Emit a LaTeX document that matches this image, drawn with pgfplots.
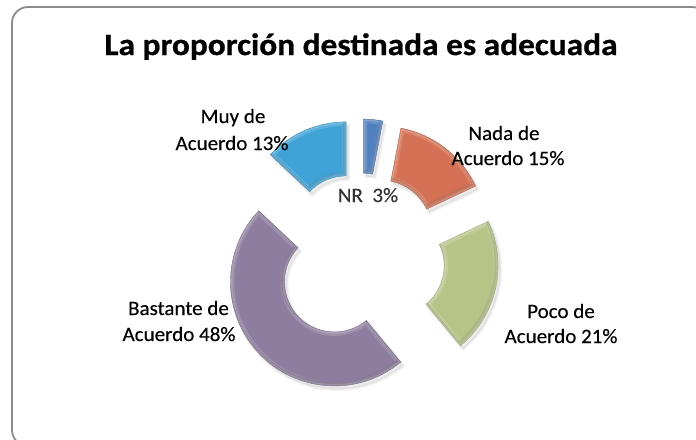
\documentclass[border=0pt]{standalone}
\usepackage{pgfplots}
\pgfplotsset{compat=1.18}
\usepackage{pgfplotstable}
\usepackage{fontspec}
\setmainfont{Carlito}
\newfontfamily\titlefont[FakeStretch=1.08,FakeBold=0.8]{Carlito Bold}
\newfontfamily\labelfont[FakeStretch=1.03,FakeBold=0.25]{Carlito}

\definecolor{cNR}{RGB}{80,128,192}
\definecolor{cNada}{RGB}{212,112,84}
\definecolor{cPoco}{RGB}{183,196,136}
\definecolor{cBastante}{RGB}{141,125,158}
\definecolor{cMuy}{RGB}{64,163,215}
\definecolor{framegray}{RGB}{140,140,140}

\pgfplotstableread{
label value
NR 3
Nada 15
Poco 21
Bastante 48
Muy 13
}\piedata

\def\cx{360}\def\cy{182}\def\Rout{104}\def\Rin{50}\def\expl{35}

\gdef\cum{0}
\pgfplotstablegetrowsof{\piedata}
\pgfmathtruncatemacro\lastrow{\pgfplotsretval-1}
\foreach \i in {0,...,\lastrow}{%
  \pgfplotstablegetelem{\i}{value}\of\piedata
  \pgfmathsetmacro\va{\pgfplotsretval}%
  \pgfmathsetmacro\tone{90-3.6*\cum}%
  \pgfmathsetmacro\ttwo{90-3.6*(\cum+\va)}%
  \pgfmathsetmacro\tmid{(\tone+\ttwo)/2}%
  \pgfmathsetmacro\px{\cx+\expl*cos(\tmid)}%
  \pgfmathsetmacro\py{\cy+\expl*sin(\tmid)}%
  \expandafter\xdef\csname tone\i\endcsname{\tone}%
  \expandafter\xdef\csname ttwo\i\endcsname{\ttwo}%
  \expandafter\xdef\csname px\i\endcsname{\px}%
  \expandafter\xdef\csname py\i\endcsname{\py}%
  \pgfmathsetmacro\newcum{\cum+\va}%
  \xdef\cum{\newcum}%
}

\newcommand\slicepath[1]{%
  ([shift={(\csname tone#1\endcsname:\Rout bp)}]axis cs:\csname px#1\endcsname,\csname py#1\endcsname)
  arc[start angle=\csname tone#1\endcsname, end angle=\csname ttwo#1\endcsname, radius=\Rout bp]
  -- ([shift={(\csname ttwo#1\endcsname:\Rin bp)}]axis cs:\csname px#1\endcsname,\csname py#1\endcsname)
  arc[start angle=\csname ttwo#1\endcsname, end angle=\csname tone#1\endcsname, radius=\Rin bp]
  -- cycle}

\newcommand\drawslice[2]{%
  \begin{scope}[shift={(2.5bp,-3.5bp)}]
    \fill[black, opacity=0.07, draw=black, draw opacity=0.05, line width=3bp] \slicepath{#1};
  \end{scope}
  \fill[#2] \slicepath{#1};
  \begin{scope}
    \clip \slicepath{#1};
    \draw[white, opacity=0.14, line width=8bp] \slicepath{#1};
    \draw[white, opacity=0.18, line width=3.5bp] \slicepath{#1};
    \begin{scope}[shift={(-1.5bp,2bp)}]
      \draw[black, opacity=0.10, line width=4bp] \slicepath{#1};
    \end{scope}
  \end{scope}
  \draw[#2!85!black, line width=0.4bp] \slicepath{#1};
}

\begin{document}
\begin{tikzpicture}
\begin{axis}[x=1bp, y=1bp, xmin=0, xmax=696, ymin=0, ymax=440,
  hide axis, clip=false, at={(0,0)}, anchor=south west]
  \fill[white] (axis cs:0,0) rectangle (axis cs:696,440);
  \draw[framegray, line width=1.8bp, rounded corners=16bp] (axis cs:12,433) rectangle (axis cs:708,-6);
  \drawslice{0}{cNR}
  \drawslice{1}{cNada}
  \drawslice{2}{cPoco}
  \drawslice{3}{cBastante}
  \drawslice{4}{cMuy}
  % title
  \node[anchor=base, font=\titlefont\fontsize{31}{36}\selectfont] at (axis cs:361,385) {La proporción destinada es adecuada};
  % labels
  \tikzset{lab/.style={anchor=base, font=\labelfont\fontsize{20.5}{25}\selectfont, inner sep=0pt}}
  \node[lab] at (axis cs:233,317) {Muy de};
  \node[lab] at (axis cs:232,290) {Acuerdo 13\%};
  \node[lab] at (axis cs:504,300) {Nada de};
  \node[lab] at (axis cs:508,275) {Acuerdo 15\%};
  \node[lab, text=black!80] at (axis cs:368,238) {NR\ \ 3\%};
  \node[lab] at (axis cs:561,122) {Poco de};
  \node[lab] at (axis cs:561,97) {Acuerdo 21\%};
  \node[lab] at (axis cs:178.5,125) {Bastante de};
  \node[lab] at (axis cs:179,99) {Acuerdo 48\%};
\end{axis}
\pgfresetboundingbox
\path (0,0) rectangle (696bp,440bp);
\end{tikzpicture}
\end{document}
